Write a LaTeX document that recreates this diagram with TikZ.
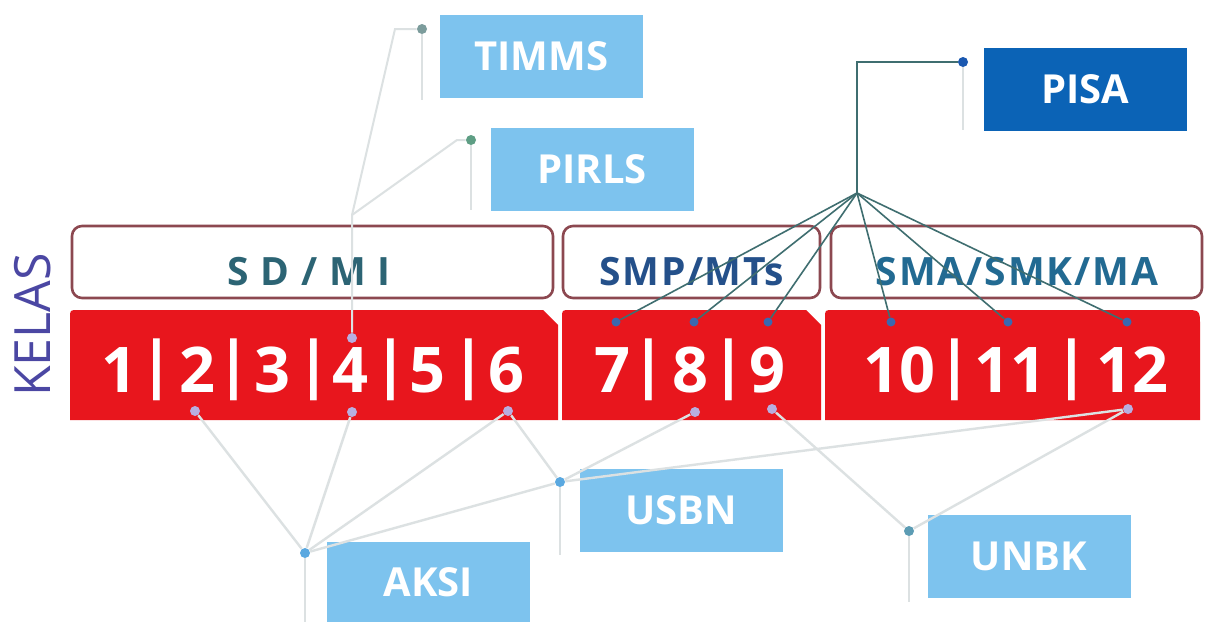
\documentclass[tikz,border=0pt]{standalone}
\usepackage{fontspec}
\setmainfont{Open Sans}
\definecolor{redbox}{HTML}{E8161D}
\definecolor{hdrborder}{HTML}{8C4850}
\definecolor{lightbox}{HTML}{7DC3EE}
\definecolor{pisabox}{HTML}{0B63B6}
\definecolor{kelascol}{HTML}{4B47A3}
\definecolor{sdcol}{HTML}{2C6474}
\definecolor{smpcol}{HTML}{24508A}
\definecolor{smacol}{HTML}{226A92}
\definecolor{lightline}{HTML}{DCE1E2}
\definecolor{pisaline}{HTML}{3F6E70}
\definecolor{bluedot}{HTML}{3A68B0}
\definecolor{lavdot}{HTML}{B8AEE0}
\definecolor{timdot}{HTML}{7C9C9C}
\definecolor{pirdot}{HTML}{5E9E84}
\definecolor{pisadot}{HTML}{1A58B0}
\definecolor{skydot}{HTML}{5AA8E0}
\definecolor{unbkdot}{HTML}{5C9CB4}
\begin{document}
\begin{tikzpicture}[x=0.5pt,y=-0.5pt,
  hdr/.style={draw=hdrborder, line width=1.3pt, rounded corners=5pt, fill=white, minimum height=36pt, inner sep=0pt},
  hdrtext/.style={inner sep=0pt, font=\fontsize{19.5}{19.5}\selectfont\bfseries},
  lbox/.style={fill=lightbox, text=white, minimum width=101.5pt, minimum height=41.5pt, inner sep=0pt, font=\fontsize{20}{20}\selectfont\bfseries},
  digit/.style={text=white, inner sep=0pt, font=\fontsize{31.5}{31.5}\selectfont\bfseries},
  gdot/.style={circle, inner sep=0pt, minimum size=5pt},
  lline/.style={draw=lightline, line width=1pt},
  bline/.style={draw=lightline, line width=1.2pt},
  pline/.style={draw=pisaline, line width=0.8pt}
]
\useasboundingbox (0,0) rectangle (1208,622);
\fill[white] (0,0) rectangle (1208,622);

% KELAS
\node[rotate=90, text=kelascol, inner sep=0pt, font=\fontsize{25}{25}\selectfont] (kelas) at (33,325) {KELAS};

% red grade bars
\fill[redbox] (70,420) -- (70,318) .. controls (70,310) .. (78,310) -- (543,310) -- (558,325) -- (558,420) -- cycle;
\fill[redbox] (562,420) -- (562,318) .. controls (562,310) .. (570,310) -- (806,310) -- (821,325) -- (821,420) -- cycle;
\fill[redbox] (825,420) -- (825,318) .. controls (825,310) .. (833,310) -- (1184,310) .. controls (1200,310) .. (1200,326) -- (1200,420) -- cycle;

% header boxes
\node[hdr, minimum width=240.5pt] (hsd) at (312.5,262) {};
\node[hdr, minimum width=128.5pt] (hsmp) at (691.5,262) {};
\node[hdr, minimum width=185.5pt] (hsma) at (1016.5,262) {};
\node[hdrtext, text=sdcol] (hsdt) at (309,272) {\addfontfeature{LetterSpace=4}S D / M I};
\node[hdrtext, text=smpcol] (hsmpt) at (692,272) {\addfontfeature{LetterSpace=4}SMP/MTs};
\node[hdrtext, text=smacol] (hsmat) at (1017,272) {\addfontfeature{LetterSpace=5}SMA/SMK/MA};

% digits
\foreach \n/\x in {1/119,2/197,3/272,4/350,5/427,6/506,7/612,8/690,9/767,10/899,11/1010,12/1132}
  \node[digit] (d\n) at (\x,370) {\n};
\foreach \n/\x in {1/157,2/234,3/314,4/391,5/469,6/649,7/729,8/955,9/1072}
  \node[digit] (bar\n) at (\x,370) {|};

% light-blue / blue boxes
\node[lbox] (timms) at (541.5,56.5) {TIMMS};
\node[lbox] (pirls) at (592,169) {PIRLS};
\node[lbox, fill=pisabox] (pisa) at (1085,89) {PISA};
\node[lbox] (usbn) at (681,510) {USBN};
\node[lbox, minimum height=40pt] (aksi) at (428.5,582) {AKSI};
\node[lbox] (unbk) at (1029,556.5) {UNBK};

% connector dots
\node[gdot, fill=timdot] (timd) at (422,29) {};
\node[gdot, fill=pirdot] (pird) at (471,140) {};
\node[gdot, fill=pisadot] (pisad) at (963,62) {};
\node[gdot, fill=skydot] (usbnd) at (560,482) {};
\node[gdot, fill=skydot] (aksid) at (305,553) {};
\node[gdot, fill=unbkdot] (unbkd) at (909,531) {};

% bends, junctions, tails
\coordinate (timb) at (395,29);
\coordinate (pirb) at (457,140);
\coordinate (j1) at (352,215);
\coordinate (pisab) at (857,62);
\coordinate (j2) at (857,193);
\coordinate (timtail) at (422,100);
\coordinate (pirtail) at (471,210);
\coordinate (pisatail) at (963,130);
\coordinate (usbntail) at (560,555);
\coordinate (aksitail) at (305,622);
\coordinate (unbktail) at (909,602);

% grade dots
\foreach \n/\x in {7/616,8/694,9/768,10/891,11/1008,12/1127}
  \node[gdot, fill=bluedot, minimum size=4.5pt] (g\n t) at (\x,322) {};
\node[gdot, fill=lavdot] (g4t) at (352,338) {};
\foreach \n/\x/\y in {2/195/411,4/352/412,6/508/411,8/695/412,9/772/409,12/1128/409}
  \node[gdot, fill=lavdot] (g\n b) at (\x,\y) {};

% top connectors
\draw[lline] (timd) -- (timb) -- (j1) -- (g4t);
\draw[lline] (pird) -- (pirb) -- (j1);
\draw[lline] (timd) -- (timtail);
\draw[lline] (pird) -- (pirtail);
\draw[lline] (pisad) -- (pisatail);
\draw[pline] (pisad) -- (pisab) -- (j2);
\foreach \n in {7,8,9,10,11,12}
  \draw[pline] (j2) -- (g\n t);

% bottom connectors
\draw[bline] (aksid) -- (g2b);
\draw[bline] (aksid) -- (g4b);
\draw[bline] (aksid) -- (g6b);
\draw[bline] (aksid) -- (usbnd);
\draw[bline] (usbnd) -- (g6b);
\draw[bline] (usbnd) -- (g8b);
\draw[bline] (usbnd) -- (g12b);
\draw[bline] (unbkd) -- (g9b);
\draw[bline] (unbkd) -- (g12b);
\draw[bline] (usbnd) -- (usbntail);
\draw[bline] (aksid) -- (aksitail);
\draw[bline] (unbkd) -- (unbktail);
\end{tikzpicture}
\end{document}
